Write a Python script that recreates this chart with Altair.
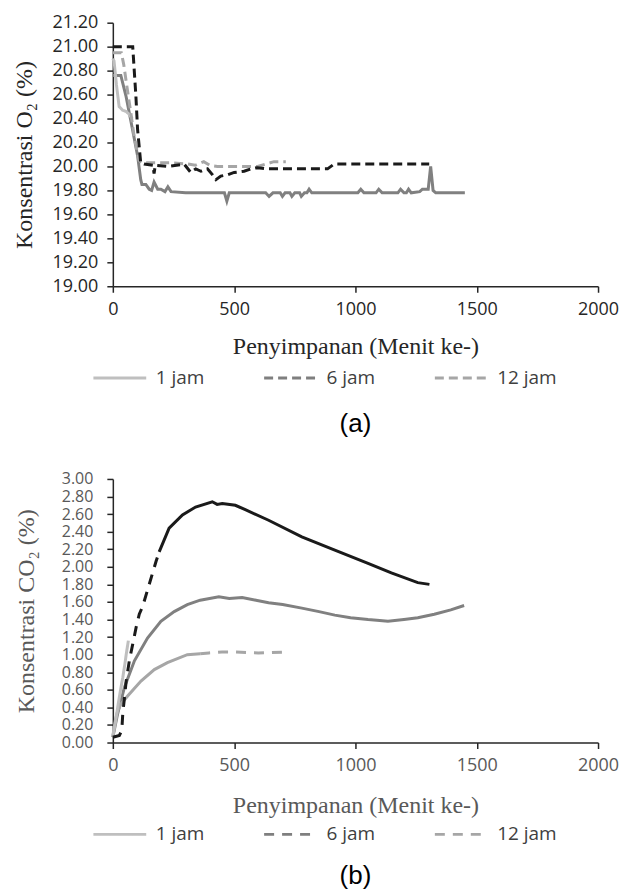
import altair as alt
import pandas as pd

# ---------------- data ----------------
series_names = ["1 jam", "6 jam", "12 jam"]
x_ticks = [0, 500, 1000, 1500, 2000]
o2_ticks = [19.0, 19.2, 19.4, 19.6, 19.8, 20.0, 20.2, 20.4, 20.6, 20.8, 21.0, 21.2]
co2_ticks = [0.0, 0.2, 0.4, 0.6, 0.8, 1.0, 1.2, 1.4, 1.6, 1.8, 2.0, 2.2, 2.4, 2.6, 2.8, 3.0]

# (a) O2
o2_1jam_x = [0, 5, 15, 26, 40, 54, 65, 80]
o2_1jam_y = [20.90, 20.88, 20.68, 20.50, 20.47, 20.46, 20.44, 20.40]

o2_6jam_x = [0, 33, 54, 81, 102, 115, 120, 136, 150, 160, 170, 185, 198, 215, 227, 240,
             300, 460, 470, 480, 630, 644, 660, 690, 699, 710, 730, 738, 750, 770, 777,
             790, 800, 809, 820, 1010, 1022, 1035, 1085, 1096, 1110, 1175, 1186, 1200,
             1210, 1219, 1230, 1265, 1276, 1300, 1310, 1320, 1331, 1451]
o2_6jam_y = [20.76, 20.76, 20.59, 20.31, 20.09, 19.89, 19.85, 19.85, 19.81, 19.80, 19.87,
             19.81, 19.81, 19.79, 19.83, 19.79, 19.78, 19.78, 19.71, 19.78, 19.78, 19.75,
             19.78, 19.78, 19.75, 19.78, 19.78, 19.75, 19.78, 19.78, 19.75, 19.78, 19.78,
             19.81, 19.78, 19.78, 19.81, 19.78, 19.78, 19.81, 19.78, 19.78, 19.81, 19.78,
             19.78, 19.81, 19.78, 19.79, 19.81, 19.81, 20.00, 19.80, 19.78, 19.78]

o2_12jam_x = [0, 35, 45, 60, 74, 88, 108, 120, 200, 250, 309, 340, 375, 400, 431, 500,
              597, 630, 664, 713]
o2_12jam_y = [20.95, 20.95, 20.85, 20.64, 20.45, 20.25, 20.05, 20.03, 20.03, 20.03, 20.02,
              20.01, 20.04, 20.01, 20.00, 20.00, 20.00, 20.02, 20.04, 20.04]

o2_other_x = [0, 82, 88, 95, 102, 115, 129, 165, 170, 175, 225, 294, 321, 342, 363, 390,
              411, 425, 445, 473, 500, 541, 569, 596, 637, 885, 912, 1304]
o2_other_y = [21.00, 21.00, 20.81, 20.59, 20.31, 20.03, 20.02, 20.01, 19.94, 20.01, 20.00,
              20.02, 19.95, 19.98, 19.96, 19.98, 19.93, 19.89, 19.92, 19.93, 19.95, 19.96,
              19.98, 19.99, 19.98, 19.98, 20.02, 20.02]

# (b) CO2
co2_1jam_x = [0, 10, 20, 30, 41, 50, 55, 64]
co2_1jam_y = [0.08, 0.22, 0.40, 0.57, 0.74, 0.90, 1.00, 1.16]

co2_6jam_x = [0, 20, 48, 89, 143, 198, 253, 307, 360, 437, 480, 533, 590, 642, 700, 779,
              850, 915, 980, 1052, 1100, 1134, 1200, 1257, 1325, 1393, 1448]
co2_6jam_y = [0.06, 0.33, 0.63, 0.93, 1.19, 1.38, 1.49, 1.57, 1.62, 1.66, 1.64, 1.65, 1.62,
              1.59, 1.57, 1.53, 1.49, 1.45, 1.42, 1.40, 1.39, 1.38, 1.40, 1.42, 1.46, 1.51,
              1.56]

co2_12jam_x = [0, 10, 20, 34, 61, 116, 171, 225, 307, 360, 396, 450, 505, 600, 710]
co2_12jam_y = [0.06, 0.25, 0.36, 0.44, 0.53, 0.70, 0.83, 0.91, 1.00, 1.01, 1.02, 1.03, 1.03,
               1.02, 1.03]

co2_other_x = [0, 27, 37, 41, 48, 55, 68, 82, 96, 109, 123, 150, 178, 191, 232, 287, 341,
               410, 430, 451, 505, 546, 642, 779, 915, 1052, 1148, 1257, 1305]
co2_other_y = [0.06, 0.08, 0.14, 0.33, 0.51, 0.70, 0.93, 1.12, 1.31, 1.46, 1.55, 1.80, 2.06,
               2.17, 2.44, 2.59, 2.68, 2.74, 2.71, 2.72, 2.70, 2.65, 2.53, 2.34, 2.19, 2.04,
               1.93, 1.82, 1.80]

OTHER = "lainnya"


def make_df(pairs):
    rows = []
    for name, xs, ys in pairs:
        for a, b in zip(xs, ys):
            rows.append({"menit": a, "nilai": b, "seri": name})
    return pd.DataFrame(rows)


df_a = make_df([("1 jam", o2_1jam_x, o2_1jam_y), ("6 jam", o2_6jam_x, o2_6jam_y),
                ("12 jam", o2_12jam_x, o2_12jam_y), (OTHER, o2_other_x, o2_other_y)])
df_b = make_df([("1 jam", co2_1jam_x, co2_1jam_y), ("6 jam", co2_6jam_x, co2_6jam_y),
                ("12 jam", co2_12jam_x, co2_12jam_y), (OTHER, co2_other_x, co2_other_y)])

LEG_COLORS = ["#bfbfbf", "#7f7f7f", "#a6a6a6"]
SANS = "Open Sans"
SERIF = "Liberation Serif"
W, H = 486, 264


def panel(df, ytitle, ydomain, yticks, dash, caption, txtcol, tickcol, ylabsize,
          ylabpad, ytitlepad, xtitlepad, solid12_until, dashed_other_until, cap_offset):
    x = alt.X("menit:Q", scale=alt.Scale(domain=[0, 2000], nice=False),
              axis=alt.Axis(values=x_ticks, format="d", title="Penyimpanan (Menit ke-)",
                            titleFont=SERIF, titleFontSize=24, titleFontWeight="normal",
                            titleColor=txtcol, titlePadding=xtitlepad, labelPadding=8,
                            labelColor=tickcol, labelFontSize=18, labelFlush=False))
    y = alt.Y("nilai:Q", scale=alt.Scale(domain=ydomain, nice=False, zero=False),
              axis=alt.Axis(values=yticks, format=".2f", title=ytitle,
                            titleFont=SERIF, titleFontSize=24, titleFontWeight="normal",
                            titleColor=txtcol, titlePadding=ytitlepad,
                            labelPadding=ylabpad, labelColor=tickcol,
                            labelFontSize=ylabsize, labelOverlap=False, labelFlush=False))
    base = alt.Chart(df).encode(x=x, y=y, order="menit:Q")

    leg = alt.Legend(title=None, orient="none", direction="horizontal",
                     legendX=-21, legendY=345, symbolType="stroke",
                     symbolSize=2800, symbolStrokeWidth=3, clipHeight=22,
                     labelFont=SANS, labelFontSize=19, labelColor="#404040",
                     labelOffset=8, columnPadding=58, columns=3)
    legend_layer = base.transform_filter(
        (alt.datum.seri == "1 jam") |
        ((alt.datum.seri == "12 jam") & (alt.datum.menit >= solid12_until))
    ).mark_line(strokeWidth=3).encode(
        color=alt.Color("seri:N", scale=alt.Scale(domain=series_names, range=LEG_COLORS),
                        legend=leg),
        strokeDash=alt.StrokeDash("seri:N", scale=alt.Scale(
            domain=series_names, range=[[1, 0], dash, dash]), legend=leg),
    )
    six = base.transform_filter(alt.datum.seri == "6 jam").mark_line(
        strokeWidth=3, color="#808080")
    twelve_solid = base.transform_filter(
        (alt.datum.seri == "12 jam") & (alt.datum.menit <= solid12_until)
    ).mark_line(strokeWidth=3, color="#a6a6a6")
    other_dashed = base.transform_filter(
        (alt.datum.seri == OTHER) & (alt.datum.menit <= dashed_other_until)
    ).mark_line(strokeWidth=3, color="#1a1a1a", strokeDash=dash)
    other_solid = base.transform_filter(
        (alt.datum.seri == OTHER) & (alt.datum.menit >= dashed_other_until)
    ).mark_line(strokeWidth=3, color="#1a1a1a")

    return alt.layer(six, twelve_solid, legend_layer, other_dashed, other_solid).resolve_scale(
        color="independent", strokeDash="independent"
    ).properties(
        width=W, height=H,
        title=alt.TitleParams(caption, orient="bottom", font="Liberation Sans",
                              fontSize=26, fontWeight="normal", color="#000000",
                              offset=cap_offset, anchor="middle"),
    )


pa = panel(df_a, "Konsentrasi O₂ (%)", [19.0, 21.2], o2_ticks, [9, 5], "(a)",
           "#262626", "#262626", 18, 9, 16, 16, -1, 5000, 22)
pb = panel(df_b, "Konsentrasi CO₂ (%)", [0.0, 3.0], co2_ticks, [10, 8], "(b)",
           "#595959", "#595959", 16, 14, 23, 19, 360, 191, 18)

chart = alt.vconcat(pa, pb, spacing=34).resolve_scale(
    color="independent", strokeDash="independent"
).resolve_legend(color="independent", strokeDash="independent").properties(
    padding={"left": 4, "top": 5, "right": 5, "bottom": 0}
).configure_view(stroke=None).configure_axis(
    grid=False, labelFont=SANS,
    domainColor="#262626", domainWidth=1.5, tickColor="#262626", tickWidth=1.5,
    tickSize=6
)

chart.save("out.html", embed_options={"renderer": "svg", "actions": False})
